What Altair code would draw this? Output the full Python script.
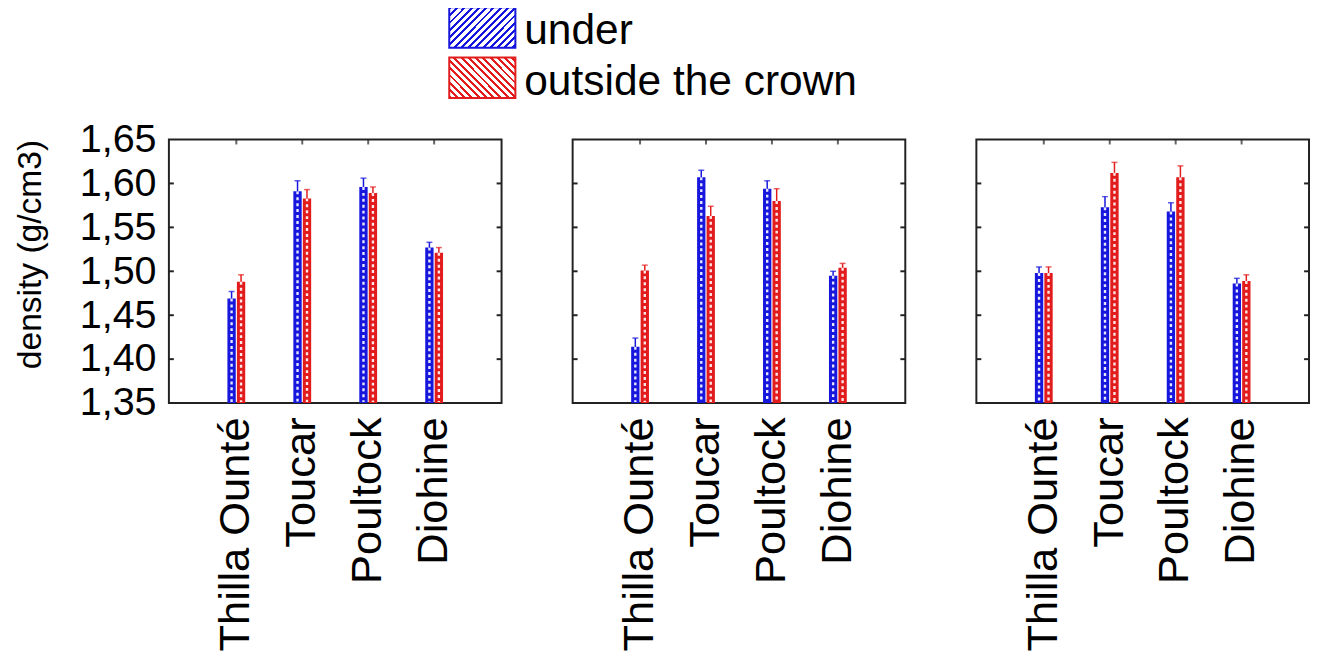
import altair as alt
import pandas as pd

# ---------------- data ----------------
categories = ["Thilla Ounté", "Toucar", "Poultock", "Diohine"]
series = ["under", "outside the crown"]
series_colors = ["#1616dc", "#e21c1c"]
y_ticks = [1.35, 1.40, 1.45, 1.50, 1.55, 1.60, 1.65]

under_mean = [
    [1.469, 1.591, 1.596, 1.527],
    [1.414, 1.607, 1.594, 1.495],
    [1.498, 1.573, 1.568, 1.486],
]
under_err = [
    [0.008, 0.012, 0.010, 0.006],
    [0.010, 0.008, 0.009, 0.005],
    [0.007, 0.012, 0.010, 0.006],
]
outside_mean = [
    [1.488, 1.583, 1.589, 1.521],
    [1.501, 1.563, 1.580, 1.504],
    [1.498, 1.612, 1.607, 1.489],
]
outside_err = [
    [0.008, 0.010, 0.007, 0.006],
    [0.006, 0.011, 0.014, 0.005],
    [0.007, 0.012, 0.013, 0.007],
]

rows = []
for p in range(3):
    for j, c in enumerate(categories):
        rows.append({"panel": p, "category": c, "series": series[0],
                     "mean": under_mean[p][j], "upper": under_mean[p][j] + under_err[p][j]})
        rows.append({"panel": p, "category": c, "series": series[1],
                     "mean": outside_mean[p][j], "upper": outside_mean[p][j] + outside_err[p][j]})
df = pd.DataFrame(rows)
ytick_df = pd.DataFrame({"v": y_ticks[1:-1]})
cat_df = pd.DataFrame({"category": categories})
leg_df = pd.DataFrame({"series": series})

# ---------------- style ----------------
FONT = "Liberation Sans"
FRAME = "#222222"
W, H = 337, 267

xscale = alt.Scale(domain=categories, paddingInner=0.73, paddingOuter=0.8875)
yscale = alt.Scale(domain=[y_ticks[0], y_ticks[-1]], zero=False, nice=False)
xo = alt.XOffset("series:N", sort=series,
                 scale=alt.Scale(domain=series, paddingInner=0.12, paddingOuter=0))
col = alt.Color("series:N", sort=series,
                scale=alt.Scale(domain=series, range=series_colors), legend=None)


def panel(i):
    d = df[df.panel == i]
    xaxis = alt.Axis(labelAngle=-90, labelFontSize=44, labelFont=FONT, ticks=False,
                     domain=False, grid=False, labelPadding=14, labelLimit=400,
                     title=None, labelColor="black")
    if i == 0:
        yaxis = alt.Axis(values=y_ticks,
                         labelExpr="replace(format(datum.value, '.2f'), '.', ',')",
                         labelFontSize=40, labelFont=FONT, labelColor="black",
                         ticks=False, tickSize=0, domain=False, grid=False,
                         labelPadding=13, title="density (g/cm3)",
                         titleFontSize=34, titleFont=FONT, titleFontWeight="normal",
                         titleColor="black", titlePadding=32, titleY=116)
    else:
        yaxis = None
    x = alt.X("category:N", sort=categories, scale=xscale, axis=xaxis)
    y = alt.Y("mean:Q", scale=yscale, axis=yaxis)

    bars = alt.Chart(d).mark_bar().encode(
        x=x, xOffset=xo, y=y, y2=alt.datum(y_ticks[0]), color=col)
    hatch = alt.Chart(d).mark_rule(color="white", strokeWidth=2.4, strokeDash=[3, 3],
                                   opacity=0.9).encode(
        x=x, xOffset=xo, y=y, y2=alt.value(H - 1))
    err = alt.Chart(d).mark_rule(strokeWidth=1.5).encode(
        x=x, xOffset=xo, y=y, y2="upper:Q", color=col)
    cap = alt.Chart(d).mark_tick(orient="horizontal", thickness=1.5, size=6).encode(
        x=x, xOffset=xo, y=alt.Y("upper:Q", scale=yscale, axis=yaxis), color=col)
    lt = alt.Chart(ytick_df).mark_rule(color=FRAME, strokeWidth=2).encode(
        y=alt.Y("v:Q", scale=yscale, axis=yaxis), x=alt.value(0), x2=alt.value(5))
    rt = alt.Chart(ytick_df).mark_rule(color=FRAME, strokeWidth=2).encode(
        y=alt.Y("v:Q", scale=yscale, axis=yaxis), x=alt.value(W - 5), x2=alt.value(W))
    tt = alt.Chart(cat_df).mark_tick(orient="vertical", color=FRAME, thickness=2,
                                     size=5).encode(x=x, y=alt.value(2.5))
    return alt.layer(bars, hatch, err, cap, lt, rt, tt).properties(width=W, height=H)


def hatch_grad(color, rising, n=15, frac=0.4):
    stops = []
    for k in range(n):
        a, b, c = k / n, (k + frac) / n, (k + 1) / n
        stops += [alt.GradientStop(color=color, offset=a),
                  alt.GradientStop(color=color, offset=b),
                  alt.GradientStop(color="white", offset=b),
                  alt.GradientStop(color="white", offset=c)]
    if rising:
        return alt.LinearGradient(gradient="linear", stops=stops, x1=0, y1=0, x2=1.2, y2=0.73)
    return alt.LinearGradient(gradient="linear", stops=stops, x1=0, y1=1, x2=1.2, y2=0.27)


ly = alt.Y("series:N", sort=series,
           scale=alt.Scale(domain=series, paddingInner=0.196, paddingOuter=0), axis=None)
leg_layers = []
for s, c, rising in zip(series, series_colors, [True, False]):
    leg_layers.append(
        alt.Chart(leg_df).transform_filter(alt.datum.series == s)
        .mark_rect(fill=hatch_grad(c, rising), stroke=c, strokeWidth=2)
        .encode(x=alt.value(284), x2=alt.value(351), y=ly)
    )
leg_text = alt.Chart(leg_df).mark_text(align="left", baseline="middle", fontSize=43,
                                       font=FONT, color="black", dy=4).encode(
    x=alt.value(360), y=ly, text="series:N")
legend = alt.layer(*leg_layers, leg_text).properties(
    width=760, height=92, view=alt.ViewBackground(stroke="transparent"))

chart = alt.vconcat(
    legend,
    alt.hconcat(panel(0), panel(1), panel(2), spacing=68),
    spacing=14,
).properties(
    padding={"left": 5, "top": -7, "right": 0, "bottom": 0},
    background="white",
).configure_view(stroke=FRAME, strokeWidth=2)

chart.save("out.html", embed_options={"renderer": "svg", "actions": False})
